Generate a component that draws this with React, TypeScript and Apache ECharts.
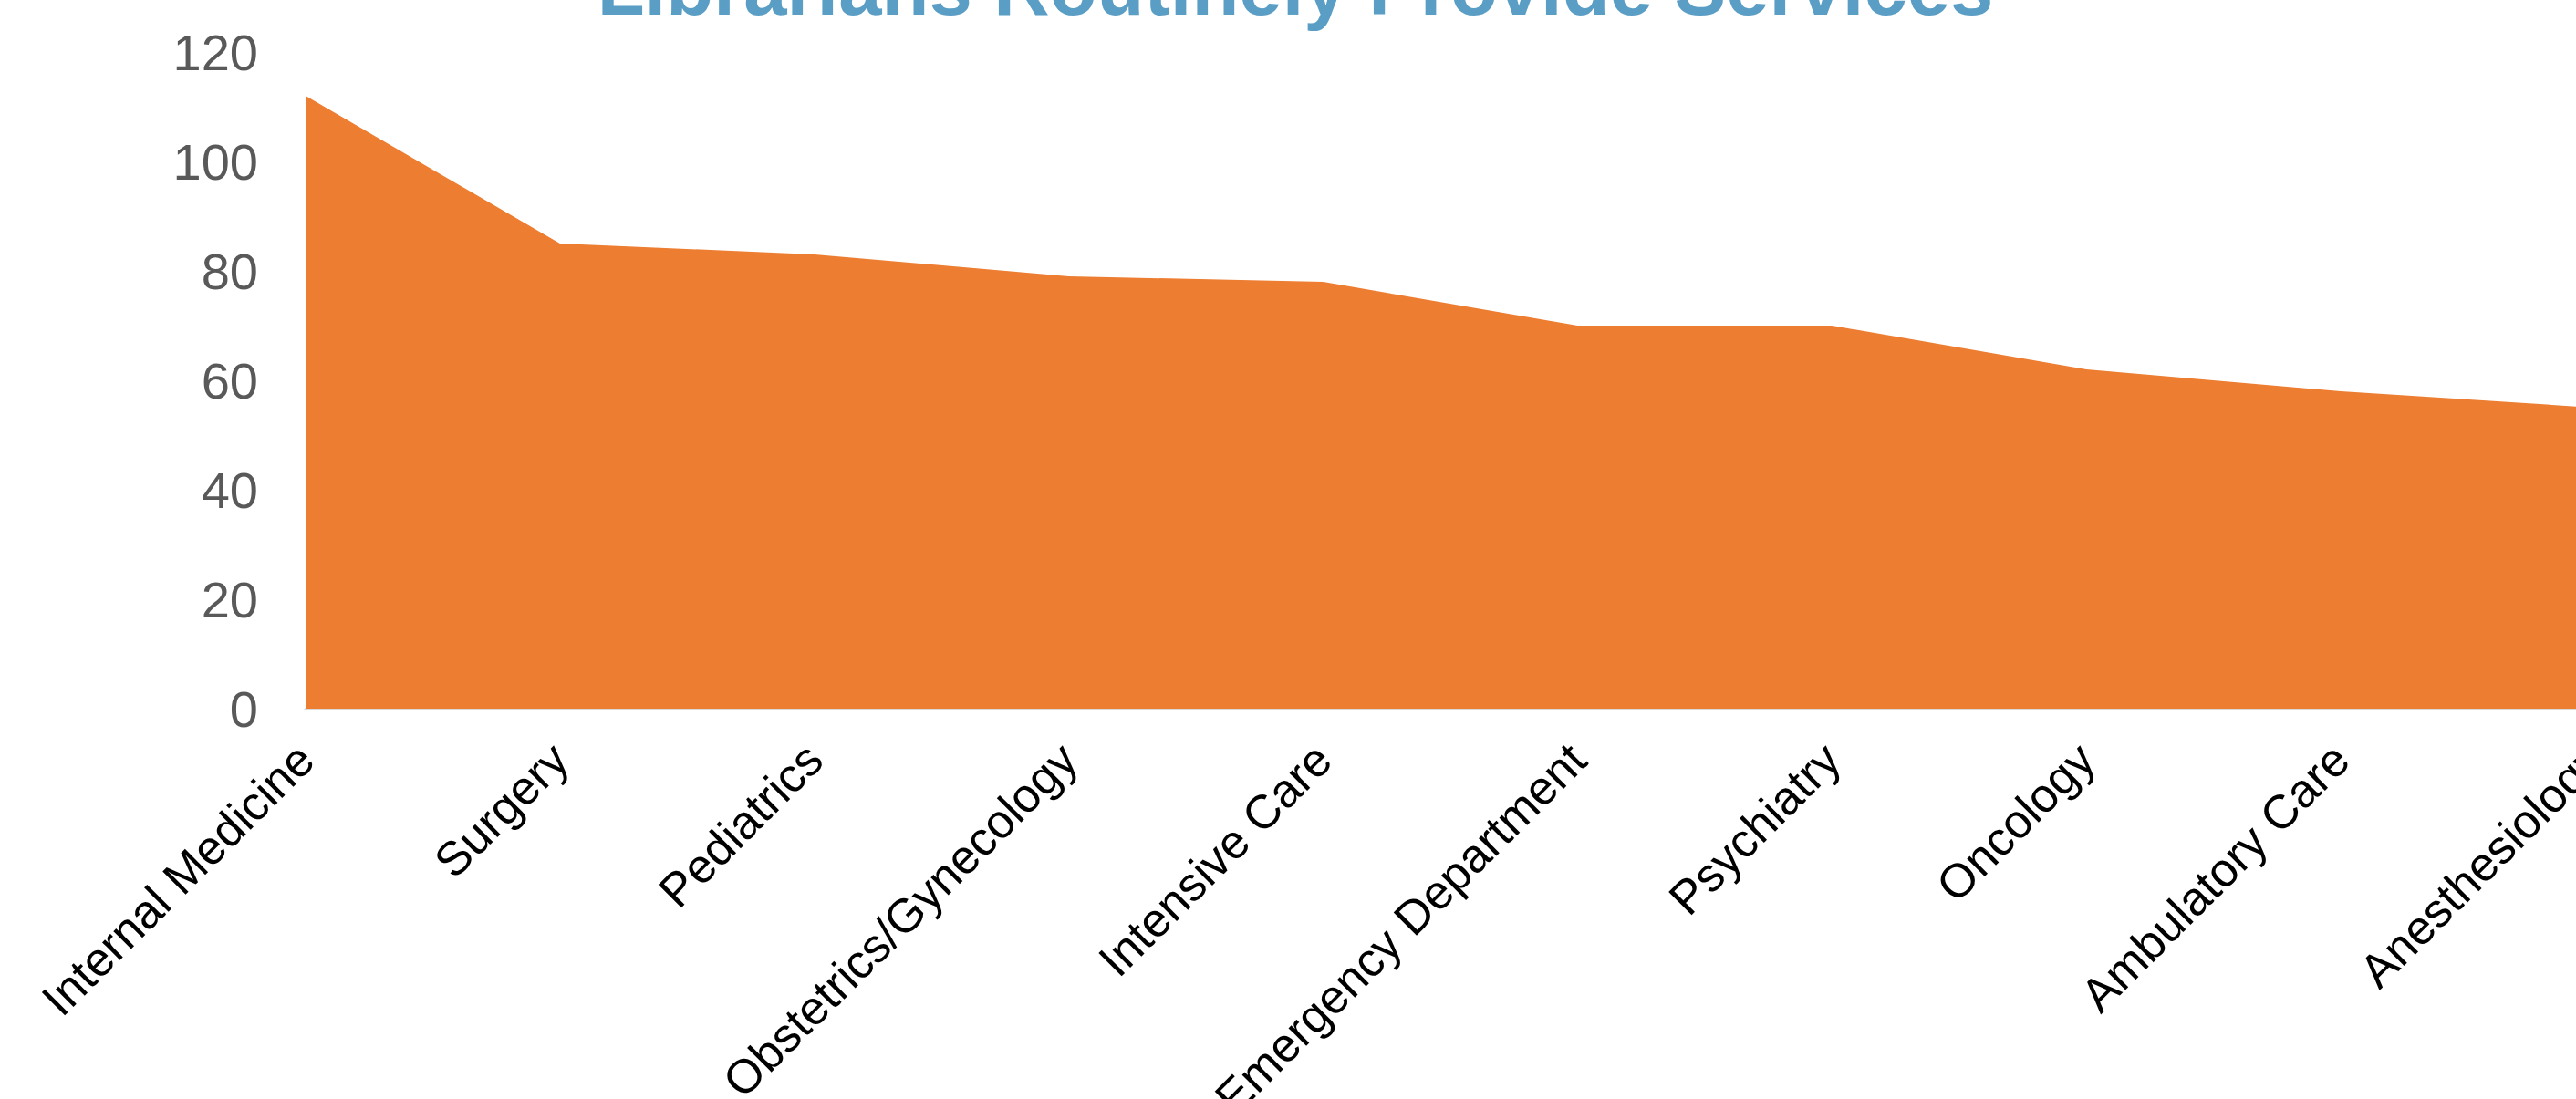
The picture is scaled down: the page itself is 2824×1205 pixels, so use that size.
import React, { useEffect, useRef } from "react";
import * as echarts from "echarts";

const categories = [
  "Internal Medicine",
  "Surgery",
  "Pediatrics",
  "Obstetrics/Gynecology",
  "Intensive Care",
  "Emergency Department",
  "Psychiatry",
  "Oncology",
  "Ambulatory Care",
  "Anesthesiology",
];
const values = [112, 85, 83, 79, 78, 70, 70, 62, 58, 55];
const titleText = "Librarians Routinely Provide Services";

const FONT = "'Liberation Sans', Arial, Helvetica, sans-serif";
const CHART_W = 2900;
const CHART_H = 1205;

export default function App() {
  const ref = useRef<HTMLDivElement>(null);
  useEffect(() => {
    if (!ref.current) return;
    const chart = echarts.init(ref.current, undefined, { renderer: "svg" });
    chart.setOption({
      animation: false,
      backgroundColor: "#ffffff",
      graphic: [
        {
          type: "text",
          x: 1420,
          y: 29,
          style: {
            text: titleText,
            fontFamily: FONT,
            fontSize: 85,
            fontWeight: "bold",
            fill: "#5A9EC6",
            textAlign: "center",
            textVerticalAlign: "bottom",
          },
        },
      ],
      grid: {
        left: 335,
        right: CHART_W - 2845,
        top: 57,
        bottom: CHART_H - 777,
        containLabel: false,
        outerBoundsMode: "none",
      },
      xAxis: {
        type: "category",
        data: categories,
        boundaryGap: false,
        axisLine: { show: true, lineStyle: { color: "#D9D9D9", width: 3 } },
        axisTick: { show: false },
        axisLabel: {
          rotate: 45,
          interval: 0,
          margin: 47,
          fontFamily: FONT,
          fontSize: 52,
          color: "#000000",
        },
        splitLine: { show: false },
      },
      yAxis: {
        type: "value",
        min: 0,
        max: 120,
        interval: 20,
        axisLine: { show: false },
        axisTick: { show: false },
        splitLine: { show: false },
        axisLabel: {
          margin: 52,
          fontFamily: FONT,
          fontSize: 56,
          color: "#595959",
        },
      },
      series: [
        {
          type: "line",
          data: values,
          showSymbol: false,
          symbol: "none",
          lineStyle: { width: 0, color: "#ED7D31" },
          itemStyle: { color: "#ED7D31" },
          areaStyle: { color: "#ED7D31", opacity: 1 },
          z: 3,
        },
      ],
    });
    return () => chart.dispose();
  }, []);

  return (
    <div
      style={{
        position: "fixed",
        left: 0,
        top: 0,
        width: "100vw",
        height: "100vh",
        overflow: "hidden",
        background: "#ffffff",
      }}
    >
      <div
        ref={ref}
        style={{ position: "absolute", left: 0, top: 0, width: CHART_W, height: CHART_H }}
      />
    </div>
  );
}
